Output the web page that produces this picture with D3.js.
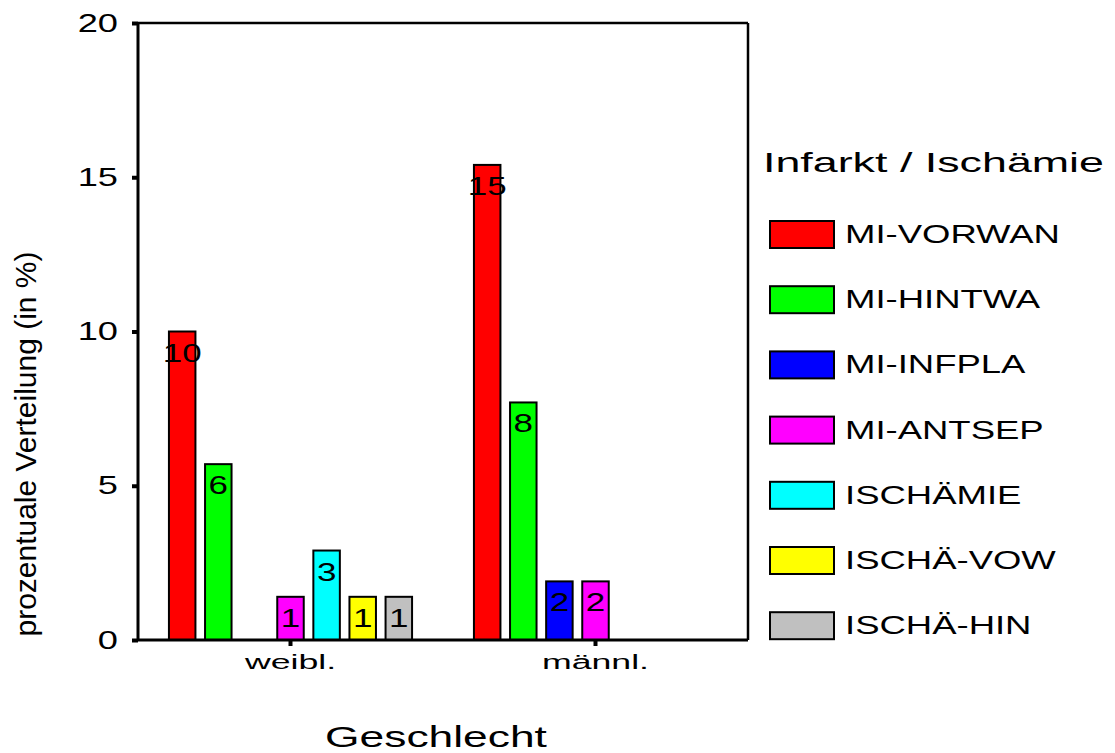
<!DOCTYPE html>
<html>
<head>
<meta charset="utf-8">
<script src="https://cdn.jsdelivr.net/npm/d3@7"></script>
<style>
  body { margin: 0; background: #fff; }
  svg { display: block; font-family: "Liberation Sans", Arial, sans-serif; }
</style>
</head>
<body>
<div id="chart"></div>
<script>
// groups on the x axis and the series (legend) entries
const groups = ["weibl.", "männl."];
const series = ["MI-VORWAN", "MI-HINTWA", "MI-INFPLA", "MI-ANTSEP", "ISCHÄMIE", "ISCHÄ-VOW", "ISCHÄ-HIN"];
const seriesColors = ["#ff0000", "#00ff00", "#0000ff", "#ff00ff", "#00ffff", "#ffff00", "#c0c0c0"];
// percent values per group, in series order
const weiblValues = [10.0, 5.7, 0, 1.4, 2.9, 1.4, 1.4];
const maennlValues = [15.4, 7.7, 1.9, 1.9, 0, 0, 0];
const yTicks = [0, 5, 10, 15, 20];

const legendTitle = "Infarkt / Ischämie";
const xTitle = "Geschlecht";
const yTitle = "prozentuale Verteilung (in %)";

const width = 1115, height = 753;
const plot = {left: 138, right: 748, top: 23, bottom: 640};

// rows for drawing
const values = [weiblValues, maennlValues];
const rows = [];
groups.forEach((g, gi) => {
  series.forEach((s, si) => {
    rows.push({group: g, series: s, value: values[gi][si], color: seriesColors[si]});
  });
});

const svg = d3.select("#chart").append("svg")
  .attr("width", width)
  .attr("height", height);

// scales
const x0 = d3.scaleBand().domain(groups).range([plot.left, plot.right]).padding(0);
const x1 = d3.scaleBand().domain(series).range([0, x0.bandwidth()])
  .paddingInner(0.266).paddingOuter(0.857);
const y = d3.scaleLinear().domain([0, 20]).range([plot.bottom, plot.top]);

// text in the reference is stretched sideways, so scale it horizontally
function stretch(sel, sx) {
  sel.each(function() {
    const t = d3.select(this);
    const tx = +t.attr("x") || 0, ty = +t.attr("y") || 0;
    t.attr("x", 0).attr("y", 0)
      .attr("transform", `translate(${tx},${ty}) scale(${sx},1)`);
  });
}

//////////////// bars ////////////////
svg.append("g").selectAll("rect")
  .data(rows.filter(d => d.value > 0))
  .join("rect")
  .attr("x", d => x0(d.group) + x1(d.series))
  .attr("y", d => y(d.value))
  .attr("width", x1.bandwidth())
  .attr("height", d => y(0) - y(d.value))
  .attr("fill", d => d.color)
  .attr("stroke", "#000")
  .attr("stroke-width", 2);

// value labels (rounded percent) near the bar top
svg.append("g").selectAll("text")
  .data(rows.filter(d => d.value > 0))
  .join("text")
  .attr("x", d => x0(d.group) + x1(d.series) + x1.bandwidth() / 2)
  .attr("y", d => y(d.value) + 30)
  .attr("text-anchor", "middle")
  .style("font-size", "25px")
  .attr("fill", "#000")
  .text(d => d3.format(".0f")(d.value))
  .call(stretch, 1.4);

//////////////// axes ////////////////
const yAxis = svg.append("g")
  .attr("transform", `translate(${plot.left},0)`)
  .call(d3.axisLeft(y).tickValues(yTicks).tickSize(6).tickPadding(14).tickSizeOuter(0));
yAxis.select(".domain").remove();
yAxis.selectAll(".tick line").attr("stroke", "#000").attr("stroke-width", 4);
yAxis.selectAll(".tick text")
  .style("font-size", "25px").attr("fill", "#000")
  .call(stretch, 1.45);

const xAxis = svg.append("g")
  .attr("transform", `translate(0,${plot.bottom})`)
  .call(d3.axisBottom(x0).tickSize(6).tickPadding(9).tickSizeOuter(0));
xAxis.select(".domain").remove();
xAxis.selectAll(".tick line").attr("stroke", "#000").attr("stroke-width", 4);
xAxis.selectAll(".tick text")
  .style("font-size", "21px").attr("fill", "#000")
  .attr("dy", null)
  .attr("y", 29)
  .call(stretch, 1.7);

// frame
const frame = svg.append("g").attr("stroke", "#000").attr("fill", "none");
frame.append("line").attr("x1", plot.left).attr("x2", plot.right)
  .attr("y1", plot.top).attr("y2", plot.top).attr("stroke-width", 2.5);
frame.append("line").attr("x1", plot.right).attr("x2", plot.right)
  .attr("y1", plot.top).attr("y2", plot.bottom).attr("stroke-width", 2.5);
frame.append("line").attr("x1", plot.left).attr("x2", plot.left)
  .attr("y1", plot.top).attr("y2", plot.bottom).attr("stroke-width", 3);
frame.append("line").attr("x1", plot.left).attr("x2", plot.right)
  .attr("y1", plot.bottom).attr("y2", plot.bottom).attr("stroke-width", 3);

// axis titles
svg.append("text")
  .attr("x", 436).attr("y", 747)
  .attr("text-anchor", "middle")
  .style("font-size", "29px")
  .text(xTitle)
  .call(stretch, 1.53);

svg.append("text")
  .attr("transform", "translate(36,444) rotate(-90)")
  .attr("text-anchor", "middle")
  .attr("textLength", 385)
  .attr("lengthAdjust", "spacingAndGlyphs")
  .style("font-size", "30px")
  .text(yTitle);

//////////////// legend ////////////////
const legend = svg.append("g").attr("transform", "translate(770,221)");
legend.append("text")
  .attr("x", -7).attr("y", -49)
  .style("font-size", "28px")
  .text(legendTitle)
  .call(stretch, 1.6);

const item = legend.selectAll(".item")
  .data(series)
  .join("g")
  .attr("class", "item")
  .attr("transform", (d, i) => `translate(0,${i * 65.2})`);
item.append("rect")
  .attr("width", 64).attr("height", 27)
  .attr("fill", (d, i) => seriesColors[i])
  .attr("stroke", "#000").attr("stroke-width", 2);
item.append("text")
  .attr("x", 75).attr("y", 22)
  .style("font-size", "25px")
  .text(d => d)
  .call(stretch, 1.46);
</script>
</body>
</html>
